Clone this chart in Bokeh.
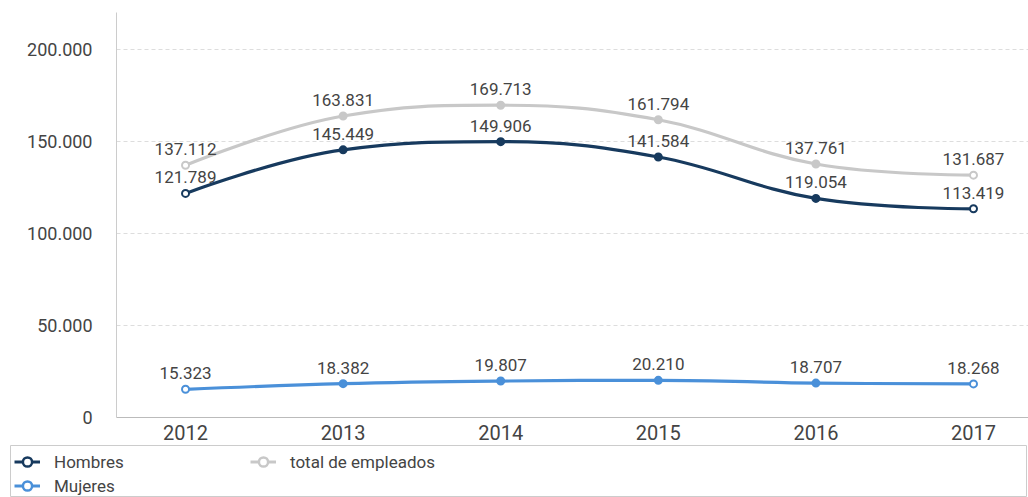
from bokeh.plotting import figure
from bokeh.models import (ColumnDataSource, FixedTicker, CustomJSTickFormatter,
                          Legend, LegendItem, Range1d)
from bokeh.core.properties import value
from bokeh.embed import file_html
from bokeh.resources import INLINE

years = [2012, 2013, 2014, 2015, 2016, 2017]
hombres = [121789, 145449, 149906, 141584, 119054, 113419]
mujeres = [15323, 18382, 19807, 20210, 18707, 18268]
total = [137112, 163831, 169713, 161794, 137761, 131687]
y_ticks = [0, 50000, 100000, 150000, 200000]

FONT = "Roboto"


def spline_controls(xs, ys, smoothing=1.5):
    n = len(xs)
    denom = smoothing + 1
    left = [(xs[i], ys[i]) for i in range(n)]
    right = [(xs[i], ys[i]) for i in range(n)]
    for i in range(1, n - 1):
        px, py = xs[i], ys[i]
        lx, ly = xs[i - 1], ys[i - 1]
        nx, ny = xs[i + 1], ys[i + 1]
        lcx = (smoothing * px + lx) / denom
        lcy = (smoothing * py + ly) / denom
        rcx = (smoothing * px + nx) / denom
        rcy = (smoothing * py + ny) / denom
        if rcx != lcx:
            corr = ((rcy - lcy) * (rcx - px)) / (rcx - lcx) + py - rcy
            lcy += corr
            rcy += corr
        if lcy > ly and lcy > py:
            lcy = max(ly, py)
            rcy = 2 * py - lcy
        elif lcy < ly and lcy < py:
            lcy = min(ly, py)
            rcy = 2 * py - lcy
        if rcy > ny and rcy > py:
            rcy = max(ny, py)
            lcy = 2 * py - rcy
        elif rcy < ny and rcy < py:
            rcy = min(ny, py)
            lcy = 2 * py - rcy
        left[i] = (lcx, lcy)
        right[i] = (rcx, rcy)
    seg = dict(x0=[], y0=[], x1=[], y1=[], cx0=[], cy0=[], cx1=[], cy1=[])
    for i in range(n - 1):
        seg["x0"].append(xs[i]); seg["y0"].append(ys[i])
        seg["x1"].append(xs[i + 1]); seg["y1"].append(ys[i + 1])
        seg["cx0"].append(right[i][0]); seg["cy0"].append(right[i][1])
        seg["cx1"].append(left[i + 1][0]); seg["cy1"].append(left[i + 1][1])
    return seg


def fmt(v):
    return f"{v:,}".replace(",", ".")


p = figure(width=1028, height=445, output_backend="svg", toolbar_location=None,
           x_range=Range1d(2011.562, 2017.349), y_range=Range1d(0, 220100),
           min_border_left=116, min_border_right=0, min_border_top=12,
           min_border_bottom=28)
p.outline_line_color = None
p.background_fill_color = "white"
p.border_fill_color = "white"

# legend-only figure below the chart
p2 = figure(width=1028, height=52, output_backend="svg", toolbar_location=None,
            x_range=Range1d(0, 1), y_range=Range1d(0, 1),
            min_border_left=10, min_border_right=2, min_border_top=0,
            min_border_bottom=0)
p2.axis.visible = False
p2.grid.visible = False
p2.outline_line_color = "#cccccc"
p2.outline_line_width = 1

series = [
    ("Hombres", hombres, "#173a5e", 3.2),
    ("Mujeres", mujeres, "#4a90d9", 3.2),
    ("total de empleados", total, "#c8c8c8", 3.2),
]

items = []
for name, vals, color, lw in series:
    seg = spline_controls(years, vals)
    p.bezier(x0="x0", y0="y0", x1="x1", y1="y1", cx0="cx0", cy0="cy0",
             cx1="cx1", cy1="cy1", source=ColumnDataSource(seg),
             line_color=color, line_width=lw)
    fills = ["white" if i in (0, len(vals) - 1) else color for i in range(len(vals))]
    src = ColumnDataSource(dict(x=years, y=vals, fill=fills,
                                label=[fmt(v) for v in vals]))
    p.scatter("x", "y", source=src, size=7, marker="circle",
              fill_color="fill", line_color=color, line_width=2)
    p.text("x", "y", text="label", source=src, text_align="center",
           text_baseline="bottom", y_offset=-10, text_color="#444444",
           text_font=value(FONT), text_font_size="17px")
    # same series in the legend figure (outside its visible range)
    lr = p2.line(years, vals, line_color=color, line_width=3)
    lsr = p2.scatter(years, vals, size=8, marker="circle", fill_color="white",
                     line_color=color, line_width=2.5)
    items.append(LegendItem(label=name, renderers=[lr, lsr]))

p.xgrid.visible = False
p.ygrid.grid_line_color = "#dddddd"
p.ygrid.grid_line_dash = "4 3"
p.ygrid.ticker = FixedTicker(ticks=y_ticks)

p.yaxis.ticker = FixedTicker(ticks=y_ticks)
p.yaxis.formatter = CustomJSTickFormatter(
    code="return tick.toString().replace(/\\B(?=(\\d{3})+(?!\\d))/g, '.');")
p.yaxis.axis_line_color = "#cccccc"
p.yaxis.major_tick_line_color = None
p.yaxis.minor_tick_line_color = None
p.yaxis.major_label_standoff = 18
p.yaxis.major_label_text_font = FONT
p.yaxis.major_label_text_font_size = "18px"
p.yaxis.major_label_text_color = "#444444"

p.xaxis.ticker = FixedTicker(ticks=years)
p.xaxis.axis_line_color = "#bbbbbb"
p.xaxis.major_tick_line_color = None
p.xaxis.minor_tick_line_color = None
p.xaxis.major_label_standoff = 1
p.xaxis.major_label_text_font = FONT
p.xaxis.major_label_text_font_size = "20px"
p.xaxis.major_label_text_color = "#444444"

legend = Legend(items=items, location=(4, 0), nrows=2,
                orientation="vertical",
                glyph_width=26, glyph_height=23, label_standoff=14,
                label_width=195, label_height=23, spacing=1, padding=2,
                label_text_font=FONT, label_text_font_size="17px",
                label_text_color="#444444",
                border_line_color=None, background_fill_alpha=0.0, margin=0)
p2.add_layout(legend)

open("out.html", "w").write(file_html([p, p2], INLINE))
